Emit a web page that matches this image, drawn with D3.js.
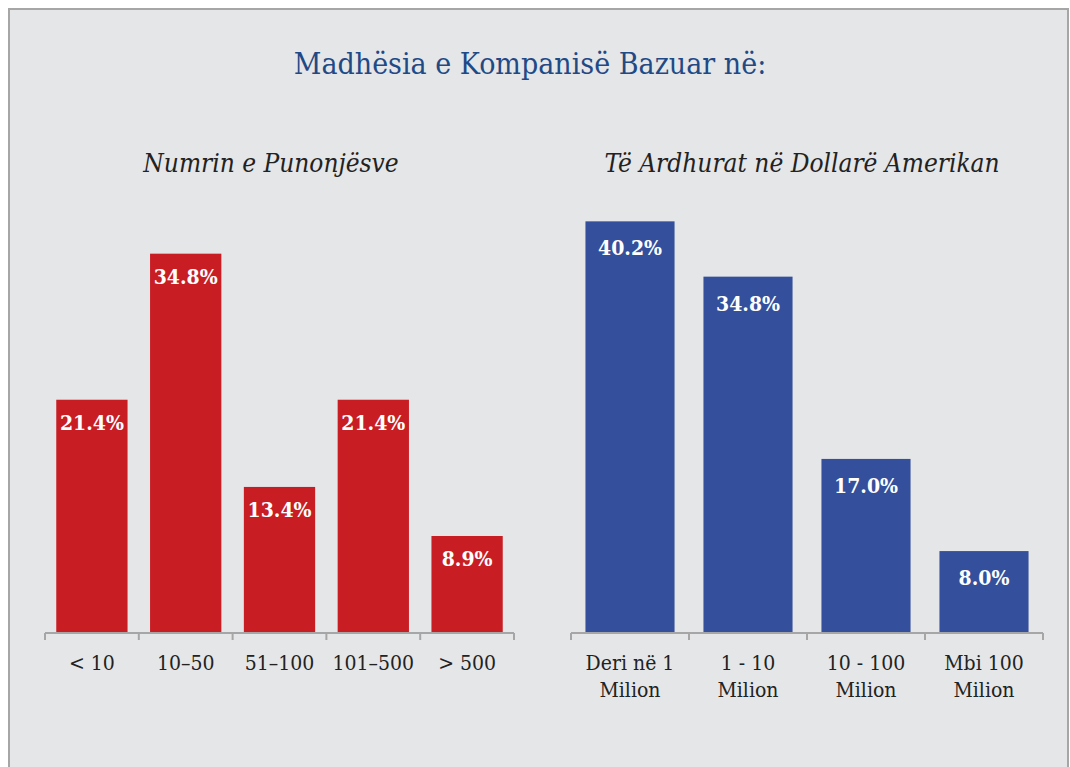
<!DOCTYPE html>
<html>
<head>
<meta charset="utf-8">
<script src="https://cdn.jsdelivr.net/npm/d3@7"></script>
<style>
  body { margin: 0; background: #fff; }
  svg { display: block; }
  text { font-family: "DejaVu Serif", "Liberation Serif", serif; font-stretch: condensed; }
</style>
</head>
<body>
<svg width="1070" height="767"></svg>
<script>
const svg = d3.select("svg");

const titleText = "Madhësia e Kompanisë Bazuar në:";

// Left chart: number of employees
const empTitle = "Numrin e Punonjësve";
const empCategories = ["< 10", "10–50", "51–100", "101–500", "> 500"];
const empValues = [21.4, 34.8, 13.4, 21.4, 8.9];

// Right chart: revenue in US dollars
const revTitle = "Të Ardhurat në Dollarë Amerikan";
const revCategories = [["Deri në 1", "Milion"], ["1 - 10", "Milion"], ["10 - 100", "Milion"], ["Mbi 100", "Milion"]];
const revValues = [40.2, 34.8, 17.0, 8.0];

// Panel background and frame
svg.append("rect")
    .attr("x", 9).attr("y", 9)
    .attr("width", 1059).attr("height", 770)
    .attr("fill", "#e5e6e8")
    .attr("stroke", "#a6a6a6")
    .attr("stroke-width", 2);

svg.append("text")
    .attr("x", 530).attr("y", 74)
    .attr("text-anchor", "middle")
    .attr("fill", "#1f4a86")
    .attr("font-size", 30)
    .text(titleText);

/**
 * Draw one column chart with an axis at the bottom and labels inside the bars
 */
const drawChart = (opts) => {
    const g = svg.append("g");

    const x = d3.scaleBand()
        .domain(d3.range(opts.values.length))
        .range([opts.x0, opts.x1])
        .paddingInner(opts.pad)
        .paddingOuter(opts.pad / 2);

    const y = d3.scaleLinear()
        .domain([0, 40])
        .range([opts.base, opts.base - 40 * opts.pxPer]);

    g.append("text")
        .attr("x", opts.titleX)
        .attr("y", 172)
        .attr("text-anchor", "middle")
        .attr("font-style", "italic")
        .attr("font-size", 26)
        .attr("fill", "#222")
        .text(opts.title);

    g.selectAll("rect.bar").data(opts.values)
        .enter().append("rect")
        .attr("class", "bar")
        .attr("x", (d, i) => x(i))
        .attr("y", d => y(d))
        .attr("width", x.bandwidth())
        .attr("height", d => y(0) - y(d))
        .attr("fill", opts.color);

    g.selectAll("text.val").data(opts.values)
        .enter().append("text")
        .attr("class", "val")
        .attr("x", (d, i) => x(i) + x.bandwidth() / 2)
        .attr("y", d => y(d) + opts.labelDy)
        .attr("text-anchor", "middle")
        .attr("font-weight", "bold")
        .attr("font-size", 21)
        .attr("fill", "#fff")
        .text(d => d.toFixed(1) + "%");

    // Category axis with ticks between the columns
    const step = x.step();
    const bounds = d3.range(opts.values.length + 1).map(i => opts.x0 + i * step);
    g.append("line")
        .attr("x1", opts.x0).attr("x2", opts.x1)
        .attr("y1", opts.base).attr("y2", opts.base)
        .attr("stroke", "#a6a6a6").attr("stroke-width", 2);
    g.selectAll("line.tick").data(bounds)
        .enter().append("line")
        .attr("class", "tick")
        .attr("x1", d => d).attr("x2", d => d)
        .attr("y1", opts.base).attr("y2", opts.base + 7)
        .attr("stroke", "#a6a6a6").attr("stroke-width", 2);

    const labels = g.selectAll("text.cat").data(opts.categories)
        .enter().append("text")
        .attr("class", "cat")
        .attr("x", (d, i) => x(i) + x.bandwidth() / 2)
        .attr("y", 670)
        .attr("text-anchor", "middle")
        .attr("font-size", 21)
        .attr("fill", "#222");

    labels.each(function(d) {
        const lines = Array.isArray(d) ? d : [d];
        d3.select(this).selectAll("tspan").data(lines)
            .enter().append("tspan")
            .attr("x", d3.select(this).attr("x"))
            .attr("dy", (l, j) => j === 0 ? 0 : 27)
            .text(l => l);
    });
};

drawChart({
    title: empTitle, titleX: 271,
    categories: empCategories, values: empValues,
    x0: 45, x1: 514, base: 633, pad: 0.24, pxPer: 10.9,
    color: "#c81d23", labelDy: 30
});

drawChart({
    title: revTitle, titleX: 802,
    categories: revCategories, values: revValues,
    x0: 571, x1: 1043, base: 633, pad: 0.245, pxPer: 10.24,
    color: "#344f9b", labelDy: 34
});
</script>
</body>
</html>
